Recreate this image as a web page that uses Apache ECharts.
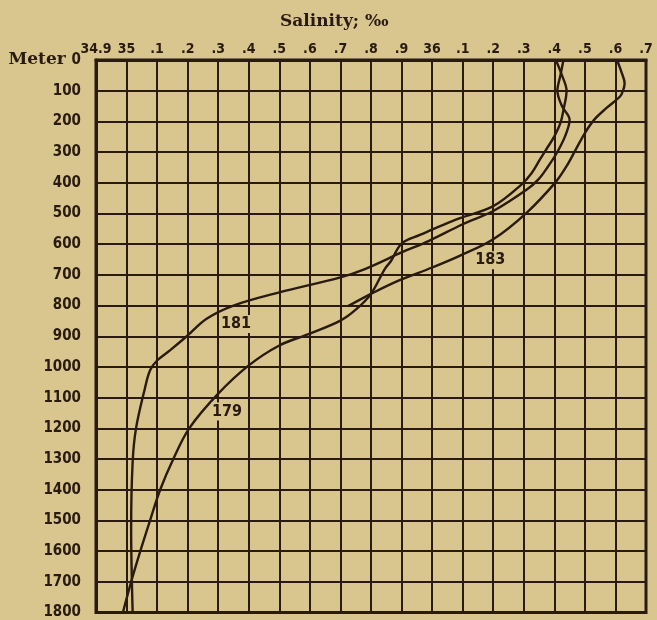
<!DOCTYPE html>
<html>
<head>
<meta charset="utf-8">
<script src="https://cdn.jsdelivr.net/npm/echarts@6/dist/echarts.min.js"></script>
<style>
html,body{margin:0;padding:0;background:#d9c68e;}
#c{width:657px;height:620px;}
</style>
</head>
<body>
<div id="c"></div>
<script>
// ---- data ----
const salinityTickLabels = ['34.9','35','.1','.2','.3','.4','.5','.6','.7','.8','.9','36','.1','.2','.3','.4','.5','.6','.7'];
const depthTickLabels = ['0','100','200','300','400','500','600','700','800','900','1000','1100','1200','1300','1400','1500','1600','1700','1800'];

const st179Salinity = [36.405,36.425,36.44,36.43,36.42,36.40,36.38,36.353,36.326,36.293,36.2,36.08,35.99,35.96,35.90,35.866,35.845,35.80,35.753,35.70,35.598,35.50,35.40,35.30,35.205,35.153,35.11,35.077,35.045,35.015,34.988];
const st179Depth    = [0,50,100,162,205,249,281,324,368,405,476,519,557,570,598,654,681,762,811,849,892,930,995,1087,1200,1300,1400,1500,1600,1700,1800];

const st181Salinity = [36.43,36.42,36.41,36.425,36.45,36.435,36.408,36.38,36.348,36.31,36.2,36.10,35.99,35.90,35.78,35.70,35.50,35.35,35.262,35.197,35.142,35.10,35.077,35.06,35.031,35.02,35.015,35.02];
const st181Depth    = [0,50,100,150,195,249,303,346,389,422,492,535,589,627,681,708,757,800,843,900,946,979,1011,1070,1200,1308,1524,1800];

const st183Salinity = [36.605,36.62,36.63,36.625,36.615,36.57,36.53,36.50,36.47,36.44,36.405,36.31,36.2,36.09,36.00,35.89,35.80,35.725];
const st183Depth    = [0,40,76,100,119,157,195,238,292,346,397,497,584,638,676,719,762,802];

const stationNames    = ['179','181','183'];
const stationLabelSal = [35.329,35.358,36.19];
const stationLabelDep = [1145,860,652];

// ---- chart ----
const ink = '#2a1a10';
const paper = '#d9c68e';
const narrow = '"Liberation Sans Narrow","DejaVu Sans Condensed","Roboto Condensed",sans-serif';
const serif = '"DejaVu Serif","Liberation Serif",serif';
const pairs = (s, d) => s.map((v, i) => [v, d[i]]);

const chart = echarts.init(document.getElementById('c'), null, {renderer: 'canvas'});
const lineStyle = {color: ink, width: 2.4};
const mk = (name, s, d) => ({
  name, type: 'line', data: pairs(s, d), smooth: 0.35, showSymbol: false, symbol: 'none',
  lineStyle, silent: true, z: 5
});

chart.setOption({
  backgroundColor: paper,
  animation: false,
  title: {
    text: 'Salinity; ‰', left: 275, top: 8,
    textStyle: {fontFamily: serif, fontWeight: 'bold', fontSize: 17, color: ink}
  },
  grid: {left: 96, right: 11, top: 60, bottom: 5, show: true, borderColor: ink, borderWidth: 3, backgroundColor: 'transparent'},
  xAxis: {
    type: 'value', position: 'top', min: 34.9, max: 36.7, interval: 0.1,
    axisLine: {show: true, lineStyle: {color: ink, width: 3}},
    axisTick: {show: false},
    splitLine: {show: true, lineStyle: {color: ink, width: 2}},
    axisLabel: {
      margin: 4, color: ink, fontFamily: narrow, fontWeight: 'bold', fontSize: 14,
      showMinLabel: true, showMaxLabel: true,
      formatter: v => salinityTickLabels[Math.round((v - 34.9) / 0.1)] || ''
    }
  },
  yAxis: {
    type: 'value', inverse: true, min: 0, max: 1800, interval: 100,
    axisLine: {show: true, lineStyle: {color: ink, width: 3}},
    axisTick: {show: false},
    splitLine: {show: true, lineStyle: {color: ink, width: 2}},
    axisLabel: {
      margin: 15, color: ink,
      formatter: v => {
        const i = Math.round(v / 100);
        return i === 0 ? '{m|Meter }{n|' + depthTickLabels[0] + '}' : '{n|' + depthTickLabels[i] + '}';
      },
      rich: {
        m: {fontFamily: serif, fontWeight: 'bold', fontSize: 17, color: ink},
        n: {fontFamily: narrow, fontWeight: 'bold', fontSize: 15, color: ink}
      }
    }
  },
  series: [
    mk('179', st179Salinity, st179Depth),
    mk('181', st181Salinity, st181Depth),
    mk('183', st183Salinity, st183Depth),
    {
      type: 'scatter', symbolSize: 0, silent: true, z: 10,
      itemStyle: {opacity: 1},
      data: stationNames.map((n, i) => ({name: n, value: [stationLabelSal[i], stationLabelDep[i]]})),
      label: {
        show: true, position: 'inside', formatter: p => p.name, opacity: 1,
        fontFamily: narrow, fontWeight: 'bold', fontSize: 16, color: ink,
        backgroundColor: paper, padding: [1, 1]
      }
    }
  ]
});
</script>
</body>
</html>
